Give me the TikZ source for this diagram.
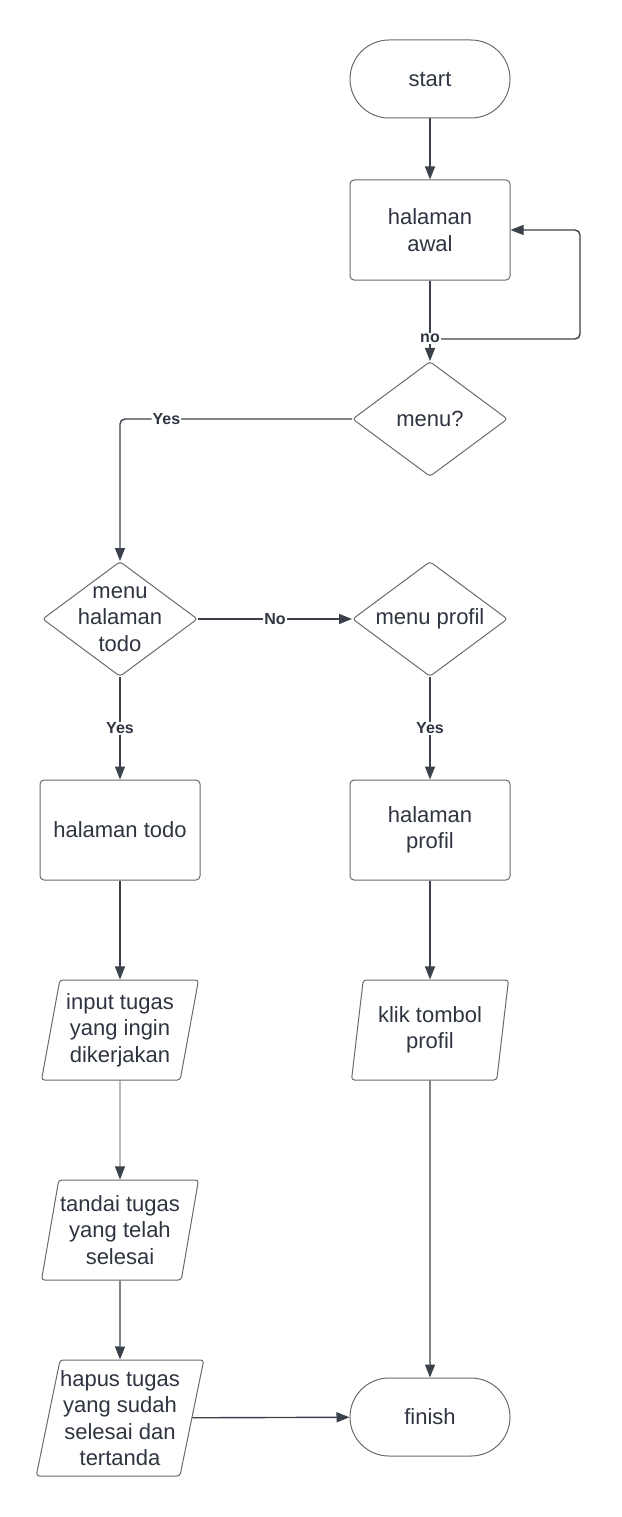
\documentclass[tikz,border=0pt]{standalone}
\usepackage{fontspec}
\setmainfont{Liberation Sans}
\usetikzlibrary{arrows.meta,shapes.geometric}
\definecolor{ink}{HTML}{2E3440}
\definecolor{wire}{HTML}{3A414B}
\definecolor{edge}{HTML}{6A6A6A}

\tikzset{
  base/.style={draw=edge, line width=1pt, text=ink, align=center,
               font=\fontsize{22}{26.5}\selectfont},
  terminal/.style={base, rounded corners=39pt, minimum width=160pt, minimum height=78pt},
  process/.style={base, rounded corners=4pt, minimum width=160pt, minimum height=100pt},
  decision/.style={base, diamond, aspect=1.35, inner sep=0pt,
                   minimum width=155pt, minimum height=115pt, rounded corners=3pt},
  io/.style={base, trapezium, trapezium left angle=76, trapezium right angle=104,
             trapezium stretches body, inner sep=0pt,
             minimum width=157pt, minimum height=100pt, rounded corners=3pt},
  flow/.style={draw=wire, line width=1.4pt, -{Triangle[length=13pt,width=10pt]}},
  answer/.style={fill=white, text=ink, inner sep=1pt, font=\fontsize{16}{18}\bfseries},
}

\begin{document}
\begin{tikzpicture}[x=1pt, y=-1pt]
  \useasboundingbox (0,0) rectangle (621,1517);

  % right column
  \node[terminal] (start) at (430,79) {start};
  \node[process]  (awal) at (430,230) {halaman\\awal};
  \node[decision] (menu) at (430,419) {menu?};
  \node[decision] (menuprofil) at (430,619) {menu profil};
  \node[process]  (profil) at (430,830) {halaman\\profil};
  \node[io]       (klik) at (430,1030) {klik tombol\\profil};
  \node[terminal] (finish) at (430,1417) {finish};

  % left column
  \node[decision, inner sep=-14pt] (menutodo) at (120,619) {menu\\halaman\\todo};
  \node[process]  (todo) at (120,830) {halaman todo};
  \node[io]       (input) at (120,1030) {input tugas\\yang ingin\\dikerjakan};
  \node[io]       (tandai) at (120,1230) {tandai tugas\\yang telah\\selesai};
  \node[io, minimum height=116pt] (hapus) at (120,1418) {hapus tugas\\yang sudah\\selesai dan\\tertanda};

  \coordinate (nofork) at (430,339);

  % connectors
  \draw[flow] (start) -- (awal);
  \draw[flow, rounded corners=5pt] (nofork) -- (580,339) |- (awal.east);
  \draw[flow] (awal) -- node[answer, pos=0.72] {no} (menu);
  \draw[flow, rounded corners=5pt] (menu.west) -| node[answer, pos=0.4] {Yes} (menutodo.north);
  \draw[flow] (menutodo) -- node[answer] {No} (menuprofil);
  \draw[flow] (menutodo) -- node[answer] {Yes} (todo);
  \draw[flow] (menuprofil) -- node[answer] {Yes} (profil);
  \draw[flow] (todo) -- (input);
  \draw[flow] (profil) -- (klik);
  \draw[flow, line width=0.8pt] (input) -- (tandai);
  \draw[flow] (tandai) -- (hapus);
  \draw[flow] (hapus) -- (finish);
  \draw[flow] (klik) -- (finish);
\end{tikzpicture}
\end{document}
